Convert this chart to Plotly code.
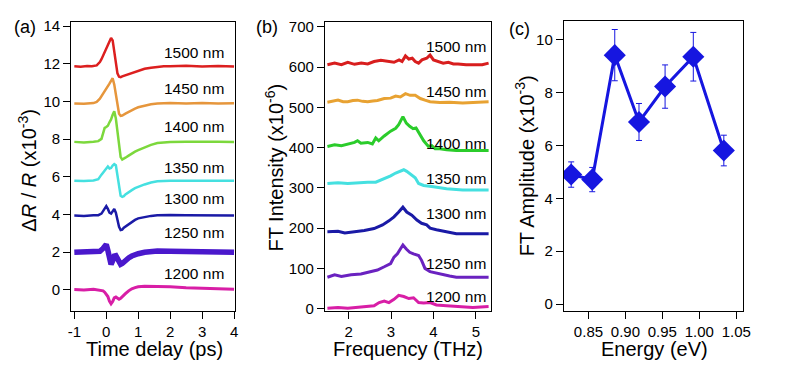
import plotly.graph_objects as go

# ---------------- Panel (a): time-domain traces ----------------
wavelengths = ["1500 nm", "1450 nm", "1400 nm", "1350 nm", "1300 nm", "1250 nm", "1200 nm"]

t_1500 = [-1.0,-0.8,-0.6,-0.45,-0.3,-0.2,-0.15,-0.1,-0.05,0.0,0.05,0.1,0.15,0.2,0.25,0.3,0.35,0.4,0.45,0.5,0.6,0.7,0.8,0.9,1.0,1.1,1.2,1.4,1.6,1.8,2.0,2.5,3.0,3.5,4.0]
r_1500 = [11.88,11.85,11.89,11.87,11.92,12.1,12.25,12.45,12.66,12.82,13.0,13.2,13.38,13.25,12.7,12.1,11.5,11.32,11.3,11.34,11.4,11.46,11.53,11.6,11.66,11.7,11.74,11.8,11.86,11.88,11.87,11.9,11.86,11.89,11.86]

t_1450 = [-1.0,-0.7,-0.4,-0.3,-0.2,-0.1,0.0,0.05,0.1,0.15,0.2,0.25,0.3,0.35,0.4,0.45,0.5,0.6,0.7,0.8,0.9,1.0,1.2,1.4,1.6,2.0,2.5,3.0,3.5,4.0]
r_1450 = [9.9,9.88,9.92,9.98,10.15,10.4,10.65,10.8,10.95,11.1,11.24,10.9,10.3,9.7,9.35,9.24,9.26,9.36,9.46,9.55,9.63,9.7,9.8,9.86,9.9,9.92,9.9,9.92,9.9,9.91]

t_1400 = [-1.0,-0.7,-0.4,-0.25,-0.15,-0.1,-0.05,0.0,0.05,0.1,0.15,0.2,0.25,0.3,0.35,0.4,0.45,0.5,0.55,0.6,0.7,0.8,0.9,1.0,1.2,1.4,1.6,1.8,2.0,2.5,3.0,3.5,4.0]
r_1400 = [7.86,7.83,7.87,7.9,8.02,8.3,8.6,8.65,8.72,8.9,9.05,9.3,9.48,9.1,8.3,7.5,7.05,6.92,6.95,7.02,7.13,7.25,7.34,7.42,7.58,7.7,7.8,7.84,7.85,7.87,7.85,7.86,7.85]

t_1350 = [-1.0,-0.7,-0.4,-0.25,-0.15,-0.05,0.0,0.05,0.1,0.15,0.2,0.25,0.3,0.35,0.4,0.45,0.5,0.55,0.6,0.7,0.8,0.9,1.0,1.2,1.4,1.6,2.0,2.5,3.0,3.5,4.0]
r_1350 = [5.8,5.78,5.81,5.88,6.12,6.34,6.42,6.55,6.45,6.48,6.6,6.68,6.62,6.0,5.35,5.0,4.94,4.98,5.07,5.2,5.3,5.4,5.48,5.6,5.7,5.77,5.8,5.81,5.79,5.8,5.79]

t_1300 = [-1.0,-0.7,-0.4,-0.25,-0.15,-0.1,-0.05,0.0,0.05,0.1,0.15,0.2,0.25,0.3,0.35,0.4,0.45,0.5,0.55,0.6,0.65,0.7,0.8,0.9,1.0,1.2,1.4,1.6,2.0,2.5,3.0,3.5,4.0]
r_1300 = [3.95,3.93,3.96,3.97,4.05,4.2,4.35,4.45,4.3,4.1,4.05,4.2,4.3,4.1,3.7,3.35,3.18,3.2,3.3,3.36,3.46,3.5,3.6,3.72,3.8,3.88,3.93,3.96,3.98,3.96,3.95,3.97,3.95]

t_1250 = [-1.0,-0.7,-0.4,-0.2,-0.1,-0.05,0.0,0.05,0.1,0.15,0.2,0.25,0.3,0.35,0.4,0.45,0.5,0.55,0.6,0.7,0.8,0.9,1.0,1.2,1.4,1.6,2.0,2.5,3.0,3.5,4.0]
r_1250 = [2.0,2.02,1.99,2.05,2.2,2.35,2.42,2.1,1.65,1.35,1.55,1.8,1.82,1.6,1.42,1.36,1.4,1.5,1.58,1.7,1.8,1.87,1.92,2.0,2.05,2.06,2.05,2.04,2.03,2.02,2.0]

t_1200 = [-1.0,-0.7,-0.4,-0.2,-0.1,-0.05,0.0,0.05,0.1,0.15,0.2,0.25,0.3,0.35,0.4,0.45,0.5,0.6,0.7,0.8,0.9,1.0,1.2,1.5,2.0,2.5,3.0,3.5,4.0]
r_1200 = [0.02,0.0,0.03,0.0,-0.05,-0.12,-0.22,-0.35,-0.6,-0.74,-0.62,-0.42,-0.38,-0.46,-0.5,-0.45,-0.35,-0.2,-0.05,0.06,0.12,0.17,0.2,0.2,0.17,0.12,0.08,0.06,0.04]

# ---------------- Panel (b): FT spectra ----------------
f_1500 = [1.5,1.67,1.83,1.98,2.14,2.3,2.45,2.6,2.76,2.91,3.07,3.19,3.26,3.34,3.42,3.5,3.57,3.65,3.73,3.84,3.92,4.0,4.12,4.23,4.35,4.47,4.58,4.77,5.0,5.15,5.3]
s_1500 = [606,610,606,612,607,610,608,614,617,614,612,618,614,628,620,622,614,610,618,622,630,618,614,610,612,608,608,606,606,606,610]

f_1450 = [1.5,1.63,1.75,1.87,1.98,2.1,2.21,2.33,2.45,2.57,2.68,2.84,2.99,3.11,3.22,3.34,3.45,3.57,3.69,3.8,3.92,4.15,4.38,4.69,5.0,5.3]
s_1450 = [513,516,518,514,514,517,518,515,514,516,517,522,523,528,526,534,530,530,522,518,514,512,513,511,513,514]

f_1400 = [1.5,1.67,1.83,1.98,2.14,2.21,2.29,2.45,2.56,2.64,2.71,2.84,2.99,3.11,3.18,3.28,3.36,3.44,3.52,3.59,3.69,3.77,3.88,3.96,4.04,4.15,4.31,4.54,4.85,5.3]
s_1400 = [403,407,405,409,413,417,411,413,409,424,417,429,441,448,457,477,461,453,447,449,429,417,403,405,397,397,395,393,393,393]

f_1350 = [1.5,1.75,1.98,2.21,2.45,2.64,2.76,2.88,2.99,3.11,3.22,3.3,3.37,3.47,3.57,3.65,3.77,4.0,4.31,4.69,5.3]
s_1350 = [311,313,311,313,314,314,319,325,330,337,341,345,341,333,325,311,306,303,298,295,295]

f_1300 = [1.5,1.75,1.91,2.14,2.37,2.6,2.8,2.95,3.07,3.18,3.28,3.37,3.49,3.61,3.72,3.84,3.92,4.07,4.31,4.54,4.93,5.3]
s_1300 = [191,192,188,191,194,199,208,218,228,240,252,240,232,220,212,208,200,196,190,186,186,186]

f_1250 = [1.5,1.67,1.83,2.06,2.29,2.53,2.68,2.84,2.99,3.07,3.15,3.22,3.28,3.36,3.44,3.53,3.65,3.72,3.8,3.92,4.07,4.23,4.38,4.54,4.93,5.3]
s_1250 = [78,84,80,84,86,92,96,104,112,128,136,148,158,148,140,136,132,120,100,92,88,84,81,78,78,78]

f_1200 = [1.5,1.75,1.98,2.21,2.45,2.6,2.72,2.84,2.95,3.07,3.18,3.3,3.42,3.53,3.65,3.77,3.92,4.07,4.31,4.54,4.93,5.3]
s_1200 = [1,3,1,3,6,7,15,19,15,23,33,30,25,27,15,14,15,9,7,6,3,5]

# ---------------- Panel (c): FT amplitude vs energy ----------------
energy = [0.8266, 0.8551, 0.8856, 0.9184, 0.9537, 0.9919, 1.0332]
amplitude = [4.9, 4.71, 9.42, 6.89, 8.23, 9.36, 5.81]
amp_err = [0.48, 0.46, 0.97, 0.70, 0.82, 0.92, 0.58]

# tick labels
ticks_a_x = [-1, 0, 1, 2, 3, 4]
ticks_a_x_text = ["-1", "0", "1", "2", "3", "4"]
ticks_c_x = [0.85, 0.90, 0.95, 1.00, 1.05]
ticks_c_x_text = ["0.85", "0.90", "0.95", "1.00", "1.05"]

# label anchor values
label_a_y = [12.63, 10.67, 8.66, 6.49, 4.85, 3.04, 0.88]
label_b_y = [651, 540, 410, 323, 237, 111, 31]

colors_a = ["#dc1f1f", "#e6963c", "#7cd83c", "#45e0e0", "#1a1aa6", "#4a18cc", "#d81ea6"]
colors_b = ["#d81e1e", "#e8a232", "#2bcc2b", "#45e0e0", "#1a1aa6", "#6a22c0", "#d81ea6"]
widths_a = [2.5, 2.5, 2.5, 2.5, 2.5, 5.5, 3.0]

W, H = 787, 370
FONT = "Liberation Sans, Arial, Helvetica, sans-serif"

def px_x(p):
    return p / W

def px_y(p):
    return 1 - p / H

fig = go.Figure()

series_a = [(t_1500, r_1500), (t_1450, r_1450), (t_1400, r_1400), (t_1350, r_1350),
            (t_1300, r_1300), (t_1250, r_1250), (t_1200, r_1200)]
series_b = [(f_1500, s_1500), (f_1450, s_1450), (f_1400, s_1400), (f_1350, s_1350),
            (f_1300, s_1300), (f_1250, s_1250), (f_1200, s_1200)]

for i, (tx, ry) in enumerate(series_a):
    fig.add_trace(go.Scatter(x=tx, y=ry, mode="lines", xaxis="x", yaxis="y",
                             line=dict(color=colors_a[i], width=widths_a[i]),
                             showlegend=False, name=wavelengths[i]))

for i, (fx, sy) in enumerate(series_b):
    fig.add_trace(go.Scatter(x=fx, y=sy, mode="lines", xaxis="x2", yaxis="y2",
                             line=dict(color=colors_b[i], width=3),
                             showlegend=False, name=wavelengths[i]))

fig.add_trace(go.Scatter(x=energy, y=amplitude, mode="lines+markers", xaxis="x3", yaxis="y3",
                         line=dict(color="#1616e0", width=3),
                         marker=dict(symbol="diamond", size=17, color="#1616e0"),
                         error_y=dict(type="data", array=amp_err, visible=True,
                                      color="#1616e0", thickness=1, width=3),
                         showlegend=False))

axis_common = dict(showline=True, linecolor="black", linewidth=1, mirror=True,
                   ticks="outside", ticklen=7, tickwidth=1, tickcolor="black",
                   showgrid=False, zeroline=False,
                   tickfont=dict(family=FONT, size=15, color="black"))

yb, yt = px_y(315), px_y(18)

fig.update_layout(
    width=W, height=H,
    margin=dict(l=0, r=0, t=0, b=0),
    paper_bgcolor="white", plot_bgcolor="white",
    font=dict(family=FONT, color="black"),
    xaxis=dict(domain=[px_x(69), px_x(235)], range=[-1.1, 4.03],
               tickvals=ticks_a_x, ticktext=ticks_a_x_text,
               anchor="y", **axis_common),
    yaxis=dict(domain=[yb, yt], range=[-1.1, 14.2], dtick=2, tick0=0,
               anchor="x", **axis_common),
    xaxis2=dict(domain=[px_x(326), px_x(494)], range=[1.44, 5.35], dtick=1, tick0=0,
                anchor="y2", **axis_common),
    yaxis2=dict(domain=[yb, yt], range=[-5, 711], dtick=100, tick0=0,
                anchor="x2", **axis_common),
    xaxis3=dict(domain=[px_x(568), px_x(750)], range=[0.8166, 1.0598],
                tickvals=ticks_c_x, ticktext=ticks_c_x_text, anchor="y3", **axis_common),
    yaxis3=dict(domain=[yb, px_y(16)], range=[-0.25, 10.73], dtick=2, tick0=0,
                anchor="x3", **axis_common),
)

ann = []
# curve labels
for i, lab in enumerate(wavelengths):
    ann.append(dict(x=3.76, y=label_a_y[i], xref="x", yref="y", text=lab, showarrow=False,
                    xanchor="right", yanchor="middle", font=dict(family=FONT, size=15.5)))
    ann.append(dict(x=5.28, y=label_b_y[i], xref="x2", yref="y2", text=lab, showarrow=False,
                    xanchor="right", yanchor="middle", font=dict(family=FONT, size=15.5)))

# panel labels
for txt, cx, cy in [("(a)", 22, 23), ("(b)", 267, 23), ("(c)", 523, 25)]:
    ann.append(dict(x=px_x(cx), y=px_y(cy), xref="paper", yref="paper", text=txt,
                    showarrow=False, xanchor="center", yanchor="middle",
                    font=dict(family=FONT, size=18)))

# x-axis titles
for txt, cx in [("Time delay (ps)", 153), ("Frequency (THz)", 410), ("Energy (eV)", 660)]:
    ann.append(dict(x=px_x(cx), y=px_y(355), xref="paper", yref="paper", text=txt,
                    showarrow=False, xanchor="center", yanchor="middle",
                    font=dict(family=FONT, size=20)))

# y-axis titles
for txt, cx, cy in [("Δ<i>R</i> / <i>R</i> (x10<sup>-3</sup>)", 25, 170),
                    ("FT Intensity (x10<sup>-6</sup>)", 274, 168),
                    ("FT Amplitude (x10<sup>-3</sup>)", 528, 166)]:
    ann.append(dict(x=px_x(cx), y=px_y(cy), xref="paper", yref="paper", text=txt,
                    showarrow=False, xanchor="center", yanchor="middle", textangle=-90,
                    font=dict(family=FONT, size=20)))

fig.update_layout(annotations=ann)

fig.write_html("out.html", config={"displayModeBar": False},
               post_script="document.body.style.margin='0';document.body.style.padding='0';")
